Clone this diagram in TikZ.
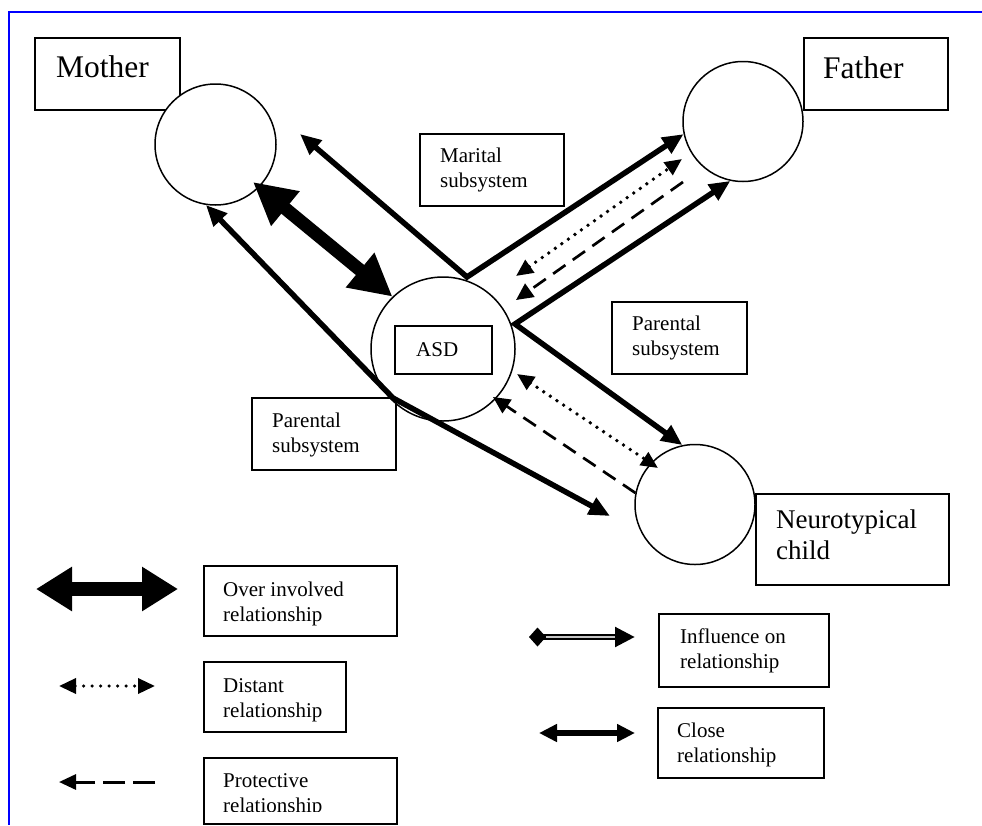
\documentclass[tikz,border=0pt]{standalone}
\usepackage{fontspec}
\setmainfont{Liberation Serif}
\usetikzlibrary{arrows.meta,calc}
\newcommand\mytwolines[2]{\vtop{\hbox{#1}\hbox{#2}}}
\begin{document}
\begin{tikzpicture}[x=1pt,y=-1pt,
  box/.style={draw, line width=1.5pt, fill=white, inner sep=0pt, anchor=north west},
  circ/.style={circle, draw, line width=1.5pt, fill=white, inner sep=0pt, minimum size=#1},
  smtxt/.style={font=\fontsize{21}{25}\selectfont, inner sep=0pt, anchor=base west},
  bigtxt/.style={font=\fontsize{31.5}{36}\selectfont, inner sep=0pt, anchor=base west},
  nttxt/.style={font=\fontsize{27}{31}\selectfont, inner sep=0pt, anchor=base west},
  closerel/.style={line width=5.5pt, {Triangle[length=21pt,width=18pt]}-{Triangle[length=21pt,width=18pt]}},
  distrel/.style={line width=3.8pt, dash pattern=on 0pt off 8pt, line cap=round,
     {Triangle[length=17pt,width=15pt]}-{Triangle[length=17pt,width=15pt]}},
  protrel/.style={line width=2.7pt, dash pattern=on 15pt off 9pt, -{Triangle[length=17pt,width=16pt]}},
  overrel/.style={line width=13pt, {Triangle[length=42pt,width=42pt]}-{Triangle[length=42pt,width=42pt]}}
]
\useasboundingbox (0,0) rectangle (982,825);
\fill[white] (0,0) rectangle (982,825);
\draw[blue, line width=2pt] (982,12) -- (9,12) -- (9,825);

% boxes
\node[box, minimum width=145pt, minimum height=72pt] (motherbox) at (34,37) {};
\node[bigtxt] (mothertxt) at (56,77) {Mother};
\node[box, minimum width=144pt, minimum height=72pt] (fatherbox) at (803,37) {};
\node[bigtxt] (fathertxt) at (823,78) {Father};
\node[box, minimum width=193pt, minimum height=91pt] (ntbox) at (755,493) {};
\node[nttxt] (nttext) at (776,528) {\mytwolines{Neurotypical}{child}};
\node[box, minimum width=144pt, minimum height=72pt] (marbox) at (419,133) {};
\node[smtxt] (martxt) at (440,162) {\mytwolines{Marital}{subsystem}};
\node[box, minimum width=135pt, minimum height=72pt] (parRbox) at (611,301) {};
\node[smtxt] (parRtxt) at (632,330) {\mytwolines{Parental}{subsystem}};
\node[box, minimum width=144pt, minimum height=72pt] (parLbox) at (251,397) {};
\node[smtxt] (parLtxt) at (272,427) {\mytwolines{Parental}{subsystem}};

% circles
\node[circ=121pt] (mom) at (215.5,144.5) {};
\node[circ=120pt] (fat) at (743,121.5) {};
\node[circ=144pt] (asd) at (443,349) {};
\node[circ=120pt] (nt) at (695,504.5) {};
\node[box, minimum width=97pt, minimum height=48pt] (asdbox) at (394,325) {};
\node[smtxt] (asdtxt) at (416,356) {ASD};

% coordinates for free ends
\coordinate (marM) at (300,134);
\coordinate (marV) at (467,277);
\coordinate (parRV) at (515,324);
\coordinate (parLV) at (393,398);
\coordinate (parLN) at (610,516);
\coordinate (dFa) at (516,276);
\coordinate (dFb) at (682,159);
\coordinate (pFa) at (683,182);
\coordinate (pFb) at (516,300);
\coordinate (dNa) at (517,374);
\coordinate (dNb) at (658,468);
\coordinate (pNb) at (493,397);
\coordinate (ovM) at (253,182);

% connectors
\draw[closerel] (marM) -- (marV) -- (fat.192);
\draw[closerel] (fat.258) -- (parRV) -- (nt.102);
\draw[closerel] (mom.-99) -- (parLV) -- (parLN);
\draw[overrel] (ovM) -- (asd.134);
\draw[distrel] (dFa) -- (dFb);
\draw[protrel] (pFa) -- (pFb);
\draw[distrel] (dNa) -- (dNb);
\draw[protrel] (nt.169) -- (pNb);

% legend
\coordinate (lo1) at (36,589);
\coordinate (lo2) at (178,589);
\draw[line width=14pt, {Triangle[length=36pt,width=42pt]}-{Triangle[length=36pt,width=42pt]}] (lo1) -- (lo2);
\node[box, minimum width=193pt, minimum height=70pt] (ovbox) at (203,565) {};
\node[smtxt] (ovtxt) at (223,596) {\mytwolines{Over involved}{relationship}};

\coordinate (ld1) at (59,686);
\coordinate (ld2) at (155,686);
\draw[line width=3.5pt, dash pattern=on 0pt off 8.5pt, line cap=round,
  {Triangle[length=17pt,width=15pt]}-{Triangle[length=17pt,width=15pt]}] (ld1) -- (ld2);
\node[box, minimum width=142pt, minimum height=70pt] (distbox) at (203,661) {};
\node[smtxt] (disttxt) at (223,692) {\mytwolines{Distant}{relationship}};

\coordinate (lp1) at (155,782);
\coordinate (lp2) at (59,782);
\draw[line width=3pt, dash pattern=on 22pt off 8pt, -{Triangle[length=17pt,width=15pt]}] (lp1) -- (lp2);
\node[box, minimum width=193pt, minimum height=66pt] (protbox) at (203,757) {};
\begin{scope}
\clip (203,757) rectangle (396,811);
\node[smtxt] (prottxt) at (223,787) {\mytwolines{Protective}{relationship}};
\end{scope}

\coordinate (li1) at (529,637);
\coordinate (li2) at (635,637);
\draw[line width=6.5pt, {Diamond[length=17pt,width=19pt]}-{Triangle[length=20pt,width=19pt]}] (li1) -- (li2);
\draw[line width=2pt, gray!45] ($(li1)+(17,0)$) -- ($(li2)+(-20,0)$);
\node[box, minimum width=170pt, minimum height=73pt] (infbox) at (658,613) {};
\node[smtxt] (inftxt) at (680,643) {\mytwolines{Influence on}{relationship}};

\coordinate (lc1) at (539,733);
\coordinate (lc2) at (635,733);
\draw[line width=5.5pt, {Triangle[length=18pt,width=17pt]}-{Triangle[length=18pt,width=17pt]}] (lc1) -- (lc2);
\node[box, minimum width=166pt, minimum height=70pt] (closebox) at (657,707) {};
\node[smtxt] (closetxt) at (677,737) {\mytwolines{Close}{relationship}};
\end{tikzpicture}
\end{document}
